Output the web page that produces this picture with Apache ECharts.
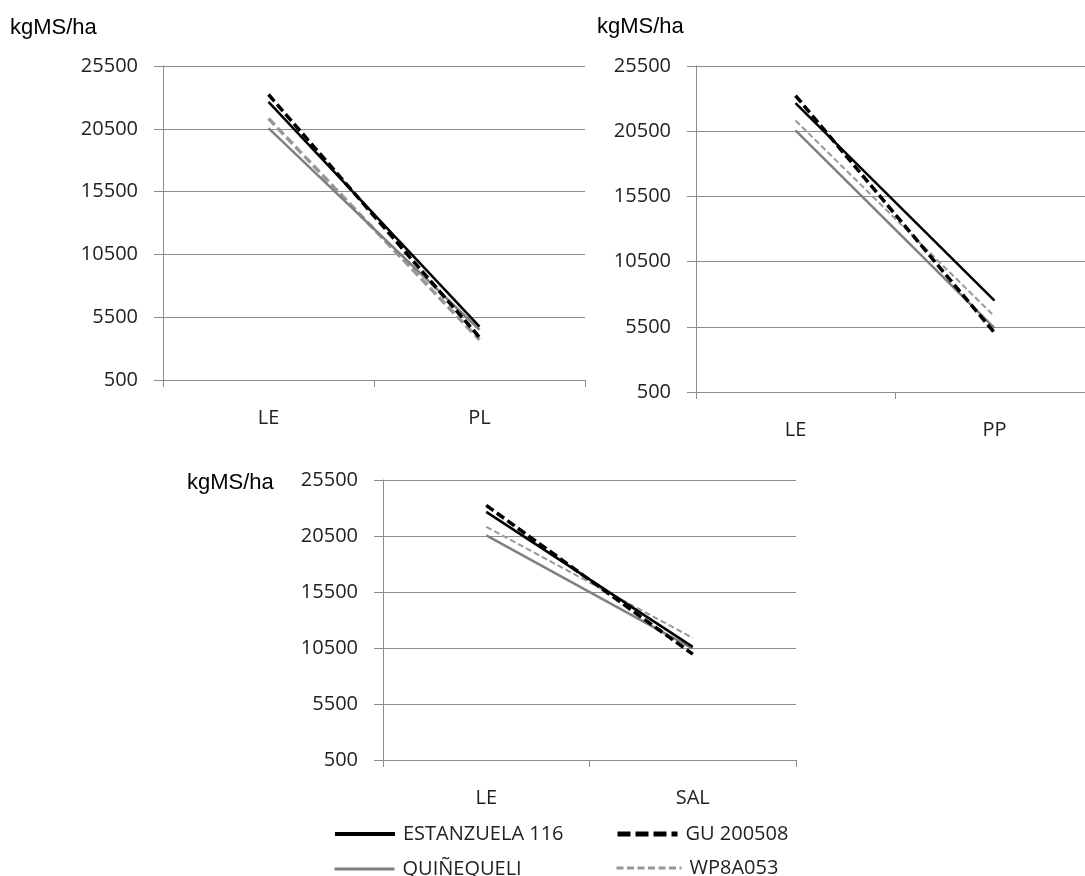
<!DOCTYPE html>
<html>
<head>
<meta charset="utf-8">
<script src="https://cdn.jsdelivr.net/npm/echarts@6/dist/echarts.min.js"></script>
<style>
  html, body { margin: 0; padding: 0; background: #ffffff; }
  #chart { width: 1085px; height: 876px; }
</style>
</head>
<body>
<div id="chart"></div>
<script>
// Forage dry-matter yield (kgMS/ha) of four varieties: LE vs. a second harvest in each panel
const varieties = ['ESTANZUELA 116', 'GU 200508', 'QUIÑEQUELI', 'WP8A053'];
const panelCategories = [['LE', 'PL'], ['LE', 'PP'], ['LE', 'SAL']];
const yieldLE  = [22650, 23230, 20560, 21320];
const yieldPL  = [4750, 3900, 4500, 3700];
const yieldPP  = [7500, 5050, 5400, 6300];
const yieldSAL = [10600, 9950, 10450, 11400];
const secondHarvest = [yieldPL, yieldPP, yieldSAL];
const yMin = 500, yMax = 25500, yStep = 5000;
const yUnit = 'kgMS/ha';

const gridColor = '#8c8c8c';
const labelFont = '"Open Sans", "DejaVu Sans", sans-serif';
const labelColor = '#222222';

// line look for each variety
const looks = [
  { color: '#000000', width: 2.5, type: 'solid' },
  { color: '#000000', width: 3.5, type: [9, 4] },
  { color: '#808080', width: 2.5, type: 'solid' },
  { color: '#999999', width: 2, type: [6, 3] }
];

// panel frames (px)
const panels = [
  { left: 163, top: 66, width: 422, height: 314, unitLeft: 10, unitTop: 17 },
  { left: 696, top: 66, width: 398, height: 326, unitLeft: 597, unitTop: 16 },
  { left: 383, top: 480, width: 413, height: 280, unitLeft: 187, unitTop: 472 }
];

const grids = [], xAxes = [], yAxes = [], series = [], titles = [];
panels.forEach((p, k) => {
  grids.push({ left: p.left, top: p.top, width: p.width, height: p.height,
               containLabel: false, outerBoundsMode: 'none' });
  xAxes.push({
    type: 'category', gridIndex: k, data: panelCategories[k], boundaryGap: true,
    axisLine: { show: true, lineStyle: { color: gridColor, width: 1 } },
    axisTick: { show: true, length: 7, lineStyle: { color: gridColor } },
    axisLabel: { margin: 28, fontSize: 20, fontFamily: labelFont, color: labelColor }
  });
  yAxes.push({
    type: 'value', gridIndex: k, min: yMin, max: yMax, interval: yStep,
    axisLine: { show: true, lineStyle: { color: gridColor, width: 1 } },
    axisTick: { show: true, length: 9, lineStyle: { color: gridColor } },
    splitLine: { show: true, lineStyle: { color: gridColor, width: 1 } },
    axisLabel: { margin: 25, fontSize: 20, fontFamily: labelFont, color: labelColor,
                 formatter: v => String(v) }
  });
  titles.push({
    text: yUnit, left: p.unitLeft, top: p.unitTop, padding: 0,
    textStyle: { fontSize: 22, fontWeight: 'normal', color: '#000000',
                 fontFamily: '"Liberation Sans", Arial, sans-serif' }
  });
  varieties.forEach((name, i) => {
    const look = looks[i];
    const wide = (k === 0 && i === 3);
    series.push({
      type: 'line', name: name, xAxisIndex: k, yAxisIndex: k,
      data: [yieldLE[i], secondHarvest[k][i]],
      symbol: 'none', silent: true,
      lineStyle: { color: look.color, width: wide ? 3.5 : look.width,
                   type: wide ? [9, 4] : look.type, cap: 'butt' },
      itemStyle: { color: look.color },
      z: 2 + (3 - i)
    });
  });
});

// one legend block per variety, laid out in two rows of two
const legendSlots = [
  { left: 333, top: 824, w: 60, line: { width: 4, type: 'solid' } },
  { left: 615, top: 824, w: 60, line: { width: 5, type: [13, 5] } },
  { left: 333, top: 859, w: 60, line: { width: 3, type: 'solid' } },
  { left: 615, top: 858, w: 65, line: { width: 3, type: [7, 3.5] } }
];
const legends = varieties.map((name, i) => ({
  data: [name], left: legendSlots[i].left, top: legendSlots[i].top, padding: 0,
  itemWidth: legendSlots[i].w, itemHeight: 14, selectedMode: false,
  // line sample only, no marker on it
  itemStyle: { opacity: 0, borderWidth: 0 },
  lineStyle: Object.assign({ color: looks[i].color, cap: 'butt', opacity: 1 }, legendSlots[i].line),
  textStyle: { fontSize: 20, fontFamily: labelFont, color: labelColor, padding: [0, 0, 0, 3] }
}));

const chart = echarts.init(document.getElementById('chart'), null, { renderer: 'canvas' });
chart.setOption({
  animation: false,
  backgroundColor: '#ffffff',
  title: titles,
  legend: legends,
  grid: grids,
  xAxis: xAxes,
  yAxis: yAxes,
  series: series
});
</script>
</body>
</html>
